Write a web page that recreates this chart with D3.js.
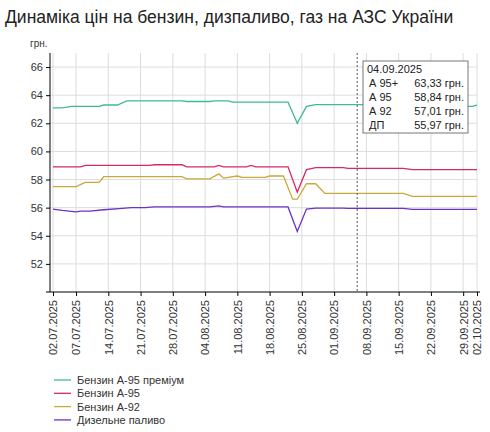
<!DOCTYPE html><html><head><meta charset="utf-8"><script src="https://cdn.jsdelivr.net/npm/d3@7"></script>
<style>body{margin:0;background:#fff;font-family:"Liberation Sans",Arial,sans-serif}</style></head><body><svg id="c" width="490" height="432"></svg>
<script>
const seriesNames=["Бензин А-95 преміум","Бензин А-95","Бензин А-92","Дизельне паливо"];
const colors=["#3dbb95","#d62a66","#c9a83c","#6b32c8"];
const a95p=[["07-02",63.1],["07-04",63.1],["07-06",63.2],["07-12",63.2],["07-13",63.3],["07-16",63.3],["07-18",63.6],["07-30",63.6],["07-31",63.55],["08-05",63.55],["08-06",63.6],["08-09",63.6],["08-10",63.5],["08-22",63.5],["08-24",62.0],["08-26",63.2],["08-28",63.33],["09-28",63.33],["09-29",63.2],["10-01",63.2],["10-02",63.3]];
const a95=[["07-02",58.9],["07-08",58.9],["07-09",59.0],["07-23",59.0],["07-24",59.05],["07-30",59.05],["07-31",58.9],["08-06",58.9],["08-07",59.0],["08-08",58.9],["08-13",58.9],["08-14",59.0],["08-15",58.9],["08-22",58.9],["08-24",57.1],["08-26",58.7],["08-28",58.84],["09-03",58.84],["09-04",58.8],["09-16",58.8],["09-18",58.7],["10-02",58.7]];
const a92=[["07-02",57.5],["07-07",57.5],["07-09",57.8],["07-12",57.8],["07-13",58.2],["07-30",58.2],["07-31",58.05],["08-05",58.05],["08-07",58.4],["08-08",58.1],["08-11",58.25],["08-12",58.15],["08-17",58.15],["08-18",58.25],["08-21",58.25],["08-23",56.6],["08-24",56.6],["08-26",57.7],["08-28",57.7],["08-30",57.01],["09-16",57.01],["09-18",56.8],["10-02",56.8]];
const dp=[["07-02",55.9],["07-04",55.8],["07-07",55.7],["07-08",55.75],["07-10",55.75],["07-13",55.85],["07-17",55.95],["07-19",56.0],["07-22",56.0],["07-24",56.05],["08-05",56.05],["08-07",56.12],["08-08",56.05],["08-22",56.05],["08-24",54.3],["08-26",55.9],["08-28",55.97],["09-03",55.97],["09-04",55.95],["09-16",55.95],["09-18",55.88],["10-02",55.88]];
const tickDates=["07-02","07-07","07-14","07-21","07-28","08-04","08-11","08-18","08-25","09-01","09-08","09-15","09-22","09-29","10-02"];
const yTicks=[52,54,56,58,60,62,64,66];
const tipDate="04.09.2025",tipLabels=["А 95+","А 95","А 92","ДП"],tipValues=["63,33 грн.","58,84 грн.","57,01 грн.","55,97 грн."];
const pd=s=>new Date("2025-"+s+"T00:00:00");
const svg=d3.select("#c");
const x=d3.scaleTime().domain([pd("07-02"),pd("10-02")]).range([53,477]);
const y=d3.scaleLinear().domain([50,67]).range([292,53]);
svg.append("text").attr("x",5).attr("y",23).attr("font-size",17.5).attr("fill","#222").text("Динаміка цін на бензин, дизпаливо, газ на АЗС України");
svg.append("text").attr("x",30).attr("y",47).attr("font-size",10).attr("fill","#333").text("грн.");
const g=svg.append("g");
tickDates.forEach(d=>g.append("line").attr("x1",x(pd(d))).attr("x2",x(pd(d))).attr("y1",53).attr("y2",292).attr("stroke","#ddd"));
yTicks.forEach(v=>g.append("line").attr("x1",50).attr("x2",477).attr("y1",y(v)).attr("y2",y(v)).attr("stroke","#ddd"));
const ya=svg.append("g").attr("transform","translate(50,0)").call(d3.axisLeft(y).tickValues(yTicks).tickSize(4).tickFormat(d3.format("d")));
ya.select(".domain").attr("d","M0,53V292");
ya.selectAll("text").attr("font-size",11).attr("fill","#333").attr("font-family","Liberation Sans");
const xa=svg.append("g").attr("transform","translate(0,292)").call(d3.axisBottom(x).tickValues(tickDates.map(pd)).tickSize(4).tickFormat(d3.timeFormat("%d.%m.%Y")));
xa.select(".domain").attr("d","M46,0H480");
xa.selectAll("text").attr("font-size",11).attr("fill","#333").attr("font-family","Liberation Sans").attr("transform","rotate(-90)").attr("text-anchor","end").attr("dx","-8").attr("y",0).attr("x",0).attr("dy","0.35em");
const line=d3.line().x(d=>x(pd(d[0]))).y(d=>y(d[1]));
[a95p,a95,a92,dp].forEach((s,i)=>svg.append("path").attr("d",line(s)).attr("fill","none").attr("stroke",colors[i]).attr("stroke-width",1.3));
const lx=x(pd("09-06"));
svg.append("line").attr("x1",lx).attr("x2",lx).attr("y1",53).attr("y2",292).attr("stroke","#555").attr("stroke-dasharray","2,2");
svg.append("rect").attr("x",363).attr("y",61).attr("width",105).attr("height",72).attr("fill","#fff").attr("stroke","#777");
svg.append("text").attr("x",367).attr("y",73).attr("font-size",11).attr("fill","#222").text(tipDate);
tipLabels.forEach((l,i)=>{svg.append("text").attr("x",369).attr("y",87+i*14).attr("font-size",11).attr("fill","#222").text(l);
svg.append("text").attr("x",464).attr("y",87+i*14).attr("font-size",11).attr("text-anchor","end").attr("fill","#222").text(tipValues[i]);});
seriesNames.forEach((n,i)=>{const yy=380+i*13.3;svg.append("line").attr("x1",54).attr("x2",71).attr("y1",yy).attr("y2",yy).attr("stroke",colors[i]).attr("stroke-width",1.3);
svg.append("text").attr("x",77).attr("y",yy+4).attr("font-size",11).attr("fill","#333").text(n);});
</script></body></html>
